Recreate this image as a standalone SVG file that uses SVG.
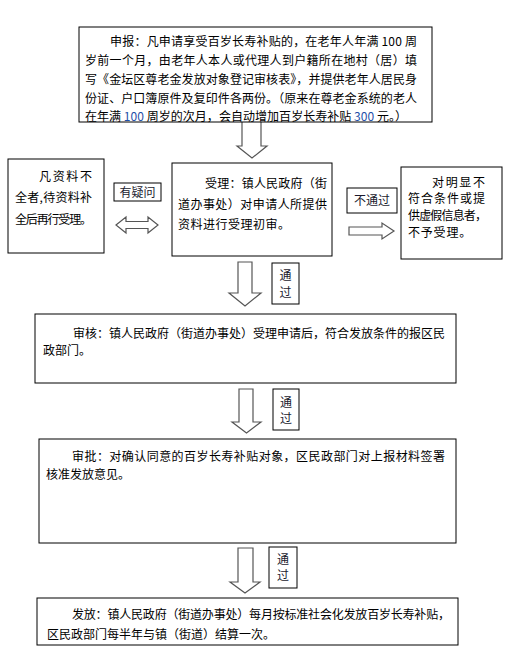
<svg xmlns="http://www.w3.org/2000/svg" width="515" height="669" viewBox="0 0 515 669">
<style>
.box{fill:#fff;stroke:#000;stroke-width:1}
.lbl{fill:#fff;stroke:#000;stroke-width:1}
.arr{fill:#fff;stroke:#555;stroke-width:1.2;stroke-linejoin:miter}
text{font-family:"Noto Sans CJK SC","Noto Sans",sans-serif;font-size:12px;fill:#000}
.l{fill:#1a1a2e;text-anchor:middle}
.b{fill:#1f4fa8}
</style>
<rect width="515" height="669" fill="#fff"/>
<g id="connectors">
<path class="arr" d="M242,122 V146 H237 L252,158 L267,146 H261 V122"/>
<path class="arr" d="M238,262 V293 H229 L245,306 L261,293 H252 V262 Z"/>
<path class="arr" d="M239,389 V422 H232 L246.5,433 L261,422 H253 V389 Z"/>
<path class="arr" d="M238,548 V582 H230 L245,593 L260,582 H253 V548 Z"/>
<path class="arr" d="M116,225 L126,217 V221.5 H148 V217 L158,225 L148,233 V228.5 H126 V233 Z"/>
<path class="arr" d="M349,227 H382 V223 L394,231 L382,239 V235 H349 Z"/>
</g>
<g id="node-apply">
<rect class="box" x="79" y="27" width="353" height="95"/>
<text x="110" y="46" textLength="307" lengthAdjust="spacing">申报：凡申请享受百岁长寿补贴的，在老年人年满 100 周</text>
<text x="85" y="65" textLength="332" lengthAdjust="spacing">岁前一个月，由老年人本人或代理人到户籍所在地村（居）填</text>
<text x="85" y="84" textLength="332" lengthAdjust="spacing">写《金坛区尊老金发放对象登记审核表》，并提供老年人居民身</text>
<text x="85" y="103" textLength="332" lengthAdjust="spacing">份证、户口簿原件及复印件各两份。（原来在尊老金系统的老人</text>
<text x="85" y="121" textLength="322" lengthAdjust="spacing">在年满 <tspan class="b">100</tspan> 周岁的次月，会自动增加百岁长寿补贴 <tspan class="b">300</tspan> 元。）</text>
</g>
<g id="node-incomplete">
<rect class="box" x="8" y="159" width="96" height="94"/>
<text x="39" y="180.5" textLength="53" lengthAdjust="spacing">凡资料不</text>
<text x="15" y="201.5" textLength="77" lengthAdjust="spacing">全者,待资料补</text>
<text x="15" y="223.5" textLength="77" lengthAdjust="spacing">全后再行受理。</text>
</g>
<g id="label-doubt">
<rect class="lbl" x="114" y="183" width="47" height="18"/>
<text class="l" x="137.5" y="196.5">有疑问</text>
</g>
<g id="node-accept">
<rect class="box" x="172" y="163" width="160" height="93"/>
<text x="205" y="187.5" textLength="122" lengthAdjust="spacing">受理：镇人民政府（街</text>
<text x="178" y="208.5" textLength="149" lengthAdjust="spacing">道办事处）对申请人所提供</text>
<text x="178" y="228.5" letter-spacing="0.5">资料进行受理初审。</text>
</g>
<g id="label-fail">
<rect class="lbl" x="347" y="188" width="50" height="25"/>
<text class="l" x="372" y="205">不通过</text>
</g>
<g id="node-reject">
<rect class="box" x="401" y="167" width="101" height="92"/>
<text x="432" y="186.5" textLength="53" lengthAdjust="spacing">对明显不</text>
<text x="408" y="203" textLength="77" lengthAdjust="spacing">符合条件或提</text>
<text x="408" y="219.5" textLength="79" lengthAdjust="spacing">供虚假信息者，</text>
<text x="408" y="236.5" letter-spacing="0.8">不予受理。</text>
</g>
<g id="label-pass1">
<rect class="lbl" x="272" y="263" width="27" height="41"/>
<text class="l" x="285.5" y="279.5">通</text>
<text class="l" x="285.5" y="296.5">过</text>
</g>
<g id="node-review">
<rect class="box" x="35" y="314" width="421" height="69"/>
<text x="73" y="337.5" textLength="372" lengthAdjust="spacing">审核：镇人民政府（街道办事处）受理申请后，符合发放条件的报区民</text>
<text x="43" y="354.5">政部门。</text>
</g>
<g id="label-pass2">
<rect class="lbl" x="273" y="389" width="26" height="41"/>
<text class="l" x="286" y="406.5">通</text>
<text class="l" x="286" y="422.5">过</text>
</g>
<g id="node-approve">
<rect class="box" x="39" y="439" width="417" height="104"/>
<text x="72" y="460.5" textLength="373" lengthAdjust="spacing">审批：对确认同意的百岁长寿补贴对象，区民政部门对上报材料签署</text>
<text x="46" y="478.5">核准发放意见。</text>
</g>
<g id="label-pass3">
<rect class="lbl" x="269" y="547" width="28" height="41"/>
<text class="l" x="283" y="563.5">通</text>
<text class="l" x="283" y="579.5">过</text>
</g>
<g id="node-issue">
<rect class="box" x="37" y="598" width="421" height="47"/>
<text x="72" y="618.5" textLength="378" lengthAdjust="spacing">发放：镇人民政府（街道办事处）每月按标准社会化发放百岁长寿补贴，</text>
<text x="47" y="638.5">区民政部门每半年与镇（街道）结算一次。</text>
</g>
</svg>
